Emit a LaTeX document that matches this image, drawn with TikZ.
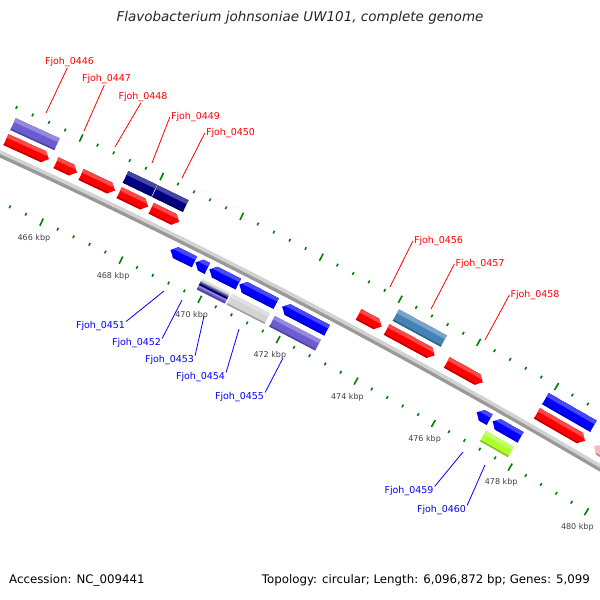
\documentclass[tikz,border=0pt]{standalone}
\usepackage{fontspec}
\setmainfont{DejaVu Sans}
\usepackage{tikz}
\usetikzlibrary{positioning}
\definecolor{featpurple}{rgb}{0.42,0.36,0.82}
\definecolor{featnavy}{rgb}{0.0,0.0,0.5}
\definecolor{featsteel}{rgb}{0.27,0.51,0.71}
\definecolor{featlime}{rgb}{0.68,1.0,0.18}
\definecolor{featsilver}{rgb}{0.83,0.83,0.83}
\definecolor{featpale}{rgb}{0.85,0.85,0.85}
\definecolor{featpink}{rgb}{1.0,0.71,0.76}
\definecolor{tickgreen}{rgb}{0.0,0.5,0.0}

% point on the genome axis at image x #1: sets \ay and \aang
\newcommand{\axat}[1]{%
  \pgfmathsetmacro{\ay}{150+0.456*(#1)+1.12*((#1)/100)^2}%
  \pgfmathsetmacro{\aang}{atan(0.456+0.224*(#1)/1000)}}

\newcommand{\gfill}[3]{%
  \fill[#3] (-1,#1) rectangle (\glen+1,#2);
  \fill[#3!72!white] (-1,\gtop) rectangle (\glen+1,#2);
  \fill[#3!75!black] (-1,#1) rectangle (\glen+1,#1+1.5);}

% feature: start, end, low edge, high edge, kind (0 box, 1 forward, 2 reverse), colour
\newcommand{\gene}[6]{%
  \axat{#1}%
  \pgfmathsetmacro{\glen}{((#2)-(#1))/cos(\aang)}%
  \pgfmathsetmacro{\gmid}{((#3)+(#4))/2}%
  \pgfmathsetmacro{\gtip}{min(6,\glen/2)}%
  \pgfmathsetmacro{\gtop}{(#4)-0.33*((#4)-(#3))}%
  \begin{scope}[shift={(#1,\ay)}, rotate=-\aang, y=1pt]
    \begin{scope}
    \ifcase#5
      \clip (0,#3) rectangle (\glen,#4);
    \or
      \clip (0,#3) -- (\glen-\gtip,#3) -- (\glen,\gmid) -- (\glen-\gtip,#4) -- (0,#4) -- cycle;
    \or
      \clip (\glen,#3) -- (\gtip,#3) -- (0,\gmid) -- (\gtip,#4) -- (\glen,#4) -- cycle;
    \fi
    \gfill{#3}{#4}{#6}
    \end{scope}
  \end{scope}}

\begin{document}
\begin{tikzpicture}[x=1pt, y=-1pt,
    fwdlab/.style={text=red, font=\fontsize{9.5}{11}\selectfont, inner sep=1pt},
    revlab/.style={text=blue, font=\fontsize{9.5}{11}\selectfont, inner sep=1pt},
    fwdline/.style={red, line width=0.8pt},
    revline/.style={blue, line width=0.8pt},
    kbplab/.style={text=black!75, font=\fontsize{8}{9}\selectfont, inner sep=0pt},
    tickmin/.style={draw=tickgreen, line width=1.6pt},
    tickmaj/.style={draw=tickgreen, line width=1.6pt},
    infotext/.style={font=\fontsize{11.8}{14}\selectfont, inner sep=0pt}
]
\fill[white] (0,0) rectangle (600,600);
\useasboundingbox (0,0) rectangle (600,600);

\begin{scope}
\clip (0,0) rectangle (600,600);

% tick rows
\foreach \i in {-4,...,32} {
  \pgfmathsetmacro{\kk}{0.4*\i}
  \pgfmathsetmacro{\ff}{62+40.13*\kk-0.0655*\kk*\kk}
  \axat{\ff}
  \pgfmathtruncatemacro{\mm}{mod(\i+100,5)}
  \begin{scope}[shift={(\ff,\ay)}, rotate=-\aang, y=1pt]
    \ifnum\mm=0 \draw[tickmaj] (0,41) -- (0,49); \else \draw[tickmin] (0,44) -- (0,47); \fi
  \end{scope}
}
\foreach \i in {-2,...,35} {
  \pgfmathsetmacro{\kk}{0.4*\i}
  \pgfmathsetmacro{\ff}{62+40.13*\kk-0.0655*\kk*\kk}
  \axat{\ff}
  \pgfmathtruncatemacro{\mm}{mod(\i+100,5)}
  \begin{scope}[shift={(\ff,\ay)}, rotate=-\aang, y=1pt]
    \ifnum\mm=0 \draw[tickmaj] (0,-52) -- (0,-44); \else \draw[tickmin] (0,-49) -- (0,-46); \fi
  \end{scope}
}
\foreach \k in {466,468,...,480} {
  \pgfmathsetmacro{\kk}{\k-466}
  \pgfmathsetmacro{\ff}{62+40.13*\kk-0.0655*\kk*\kk}
  \axat{\ff}
  \begin{scope}[shift={(\ff,\ay)}, rotate=-\aang, y=1pt]
    \node[kbplab] (kbp\k) at (0,-66) {\k{} kbp};
  \end{scope}
}

% axis
\draw[line width=4pt, gray!80] plot[domain=-10:620, samples=60] (\x, {150+0.456*\x+1.12*(\x/100)^2+5.5});
\draw[line width=3.5pt, gray!35] plot[domain=-10:620, samples=60] (\x, {150+0.456*\x+1.12*(\x/100)^2+2});

% forward features
\gene{1}{44}{6}{18}{1}{red}
\gene{51}{72}{6}{18}{1}{red}
\gene{76}{110}{6}{18}{1}{red}
\gene{114}{143}{6}{18}{1}{red}
\gene{146}{174}{6}{18}{1}{red}
\gene{353}{376}{6}{18}{1}{red}
\gene{381}{429}{6}{18}{1}{red}
\gene{441}{477}{6}{18}{1}{red}
\gene{531}{579}{6}{18}{1}{red}
\gene{588}{640}{6}{18}{2}{featpink}
\gene{1}{45}{22.5}{35.5}{0}{featpurple}
\gene{113}{141.6}{22.5}{35.5}{0}{featnavy}
\gene{142.2}{173}{22.5}{35.5}{0}{featnavy}
\gene{382}{430}{22.5}{35.5}{0}{featsteel}
\gene{531}{579}{22.5}{35.5}{0}{blue}

% reverse features
\gene{178}{202}{-23}{-11}{2}{blue}
\gene{203}{215}{-23}{-11}{2}{blue}
\gene{217}{246}{-23}{-11}{2}{blue}
\gene{247}{284}{-23}{-11}{2}{blue}
\gene{290}{335}{-23}{-11}{2}{blue}
\gene{485}{498}{-23}{-11}{2}{blue}
\gene{501}{529}{-23}{-11}{2}{blue}
\gene{215}{243}{-32.5}{-28.5}{0}{featpale}
\gene{215}{243}{-36}{-32.5}{0}{featnavy}
\gene{215}{243}{-40.5}{-36}{0}{featpurple}
\gene{245}{283}{-40.5}{-28.5}{0}{featsilver}
\gene{288}{334}{-40.5}{-28.5}{0}{featpurple}
\gene{500}{528}{-40.5}{-28.5}{0}{featlime}
\end{scope}

\node[fwdlab] (l0446) at (69.5,62) {Fjoh\_0446};
\node[fwdlab] (l0447) at (106.5,79) {Fjoh\_0447};
\node[fwdlab] (l0448) at (143,97) {Fjoh\_0448};
\node[fwdlab] (l0449) at (195.5,117) {Fjoh\_0449};
\node[fwdlab] (l0450) at (230.5,133) {Fjoh\_0450};
\node[fwdlab] (l0456) at (438.5,241) {Fjoh\_0456};
\node[fwdlab] (l0457) at (480,264) {Fjoh\_0457};
\node[fwdlab] (l0458) at (535,295) {Fjoh\_0458};
\node[revlab] (l0451) at (100.5,326) {Fjoh\_0451};
\node[revlab] (l0452) at (136.5,343) {Fjoh\_0452};
\node[revlab] (l0453) at (169.5,360) {Fjoh\_0453};
\node[revlab] (l0454) at (200.5,377) {Fjoh\_0454};
\node[revlab] (l0455) at (239.5,397) {Fjoh\_0455};
\node[revlab] (l0459) at (409,491) {Fjoh\_0459};
\node[revlab] (l0460) at (441.5,510) {Fjoh\_0460};

\coordinate (g0446) at (46,113);
\coordinate (g0447) at (84,131);
\coordinate (g0448) at (115,147);
\coordinate (g0449) at (152,163);
\coordinate (g0450) at (182,178);
\coordinate (g0456) at (390,287);
\coordinate (g0457) at (431,309);
\coordinate (g0458) at (485,340);
\coordinate (g0451) at (164,291);
\coordinate (g0452) at (182,300);
\coordinate (g0453) at (204,316);
\coordinate (g0454) at (239,329);
\coordinate (g0455) at (283,358);
\coordinate (g0459) at (463,452);
\coordinate (g0460) at (485,465);

\draw[fwdline] (l0446.250) -- (g0446);
\draw[fwdline] (l0447.250) -- (g0447);
\draw[fwdline] (l0448.250) -- (g0448);
\draw[fwdline] (l0449.west) -- (g0449);
\draw[fwdline] (l0450.west) -- (g0450);
\draw[fwdline] (l0456.west) -- (g0456);
\draw[fwdline] (l0457.west) -- (g0457);
\draw[fwdline] (l0458.west) -- (g0458);
\draw[revline] (l0451.10) -- (g0451);
\draw[revline] (l0452.10) -- (g0452);
\draw[revline] (l0453.10) -- (g0453);
\draw[revline] (l0454.10) -- (g0454);
\draw[revline] (l0455.10) -- (g0455);
\draw[revline] (l0459.10) -- (g0459);
\draw[revline] (l0460.10) -- (g0460);

\node[font=\fontsize{13.5}{16}\selectfont\itshape, text=black!85] (title) at (300,18) {Flavobacterium johnsoniae UW101, complete genome};
\node[infotext, anchor=west] (accession) at (9,580) {Accession: NC\_009441};
\node[infotext, anchor=east] (topology) at (590,580) {Topology: circular; Length: 6,096,872 bp; Genes: 5,099};
\end{tikzpicture}
\end{document}
